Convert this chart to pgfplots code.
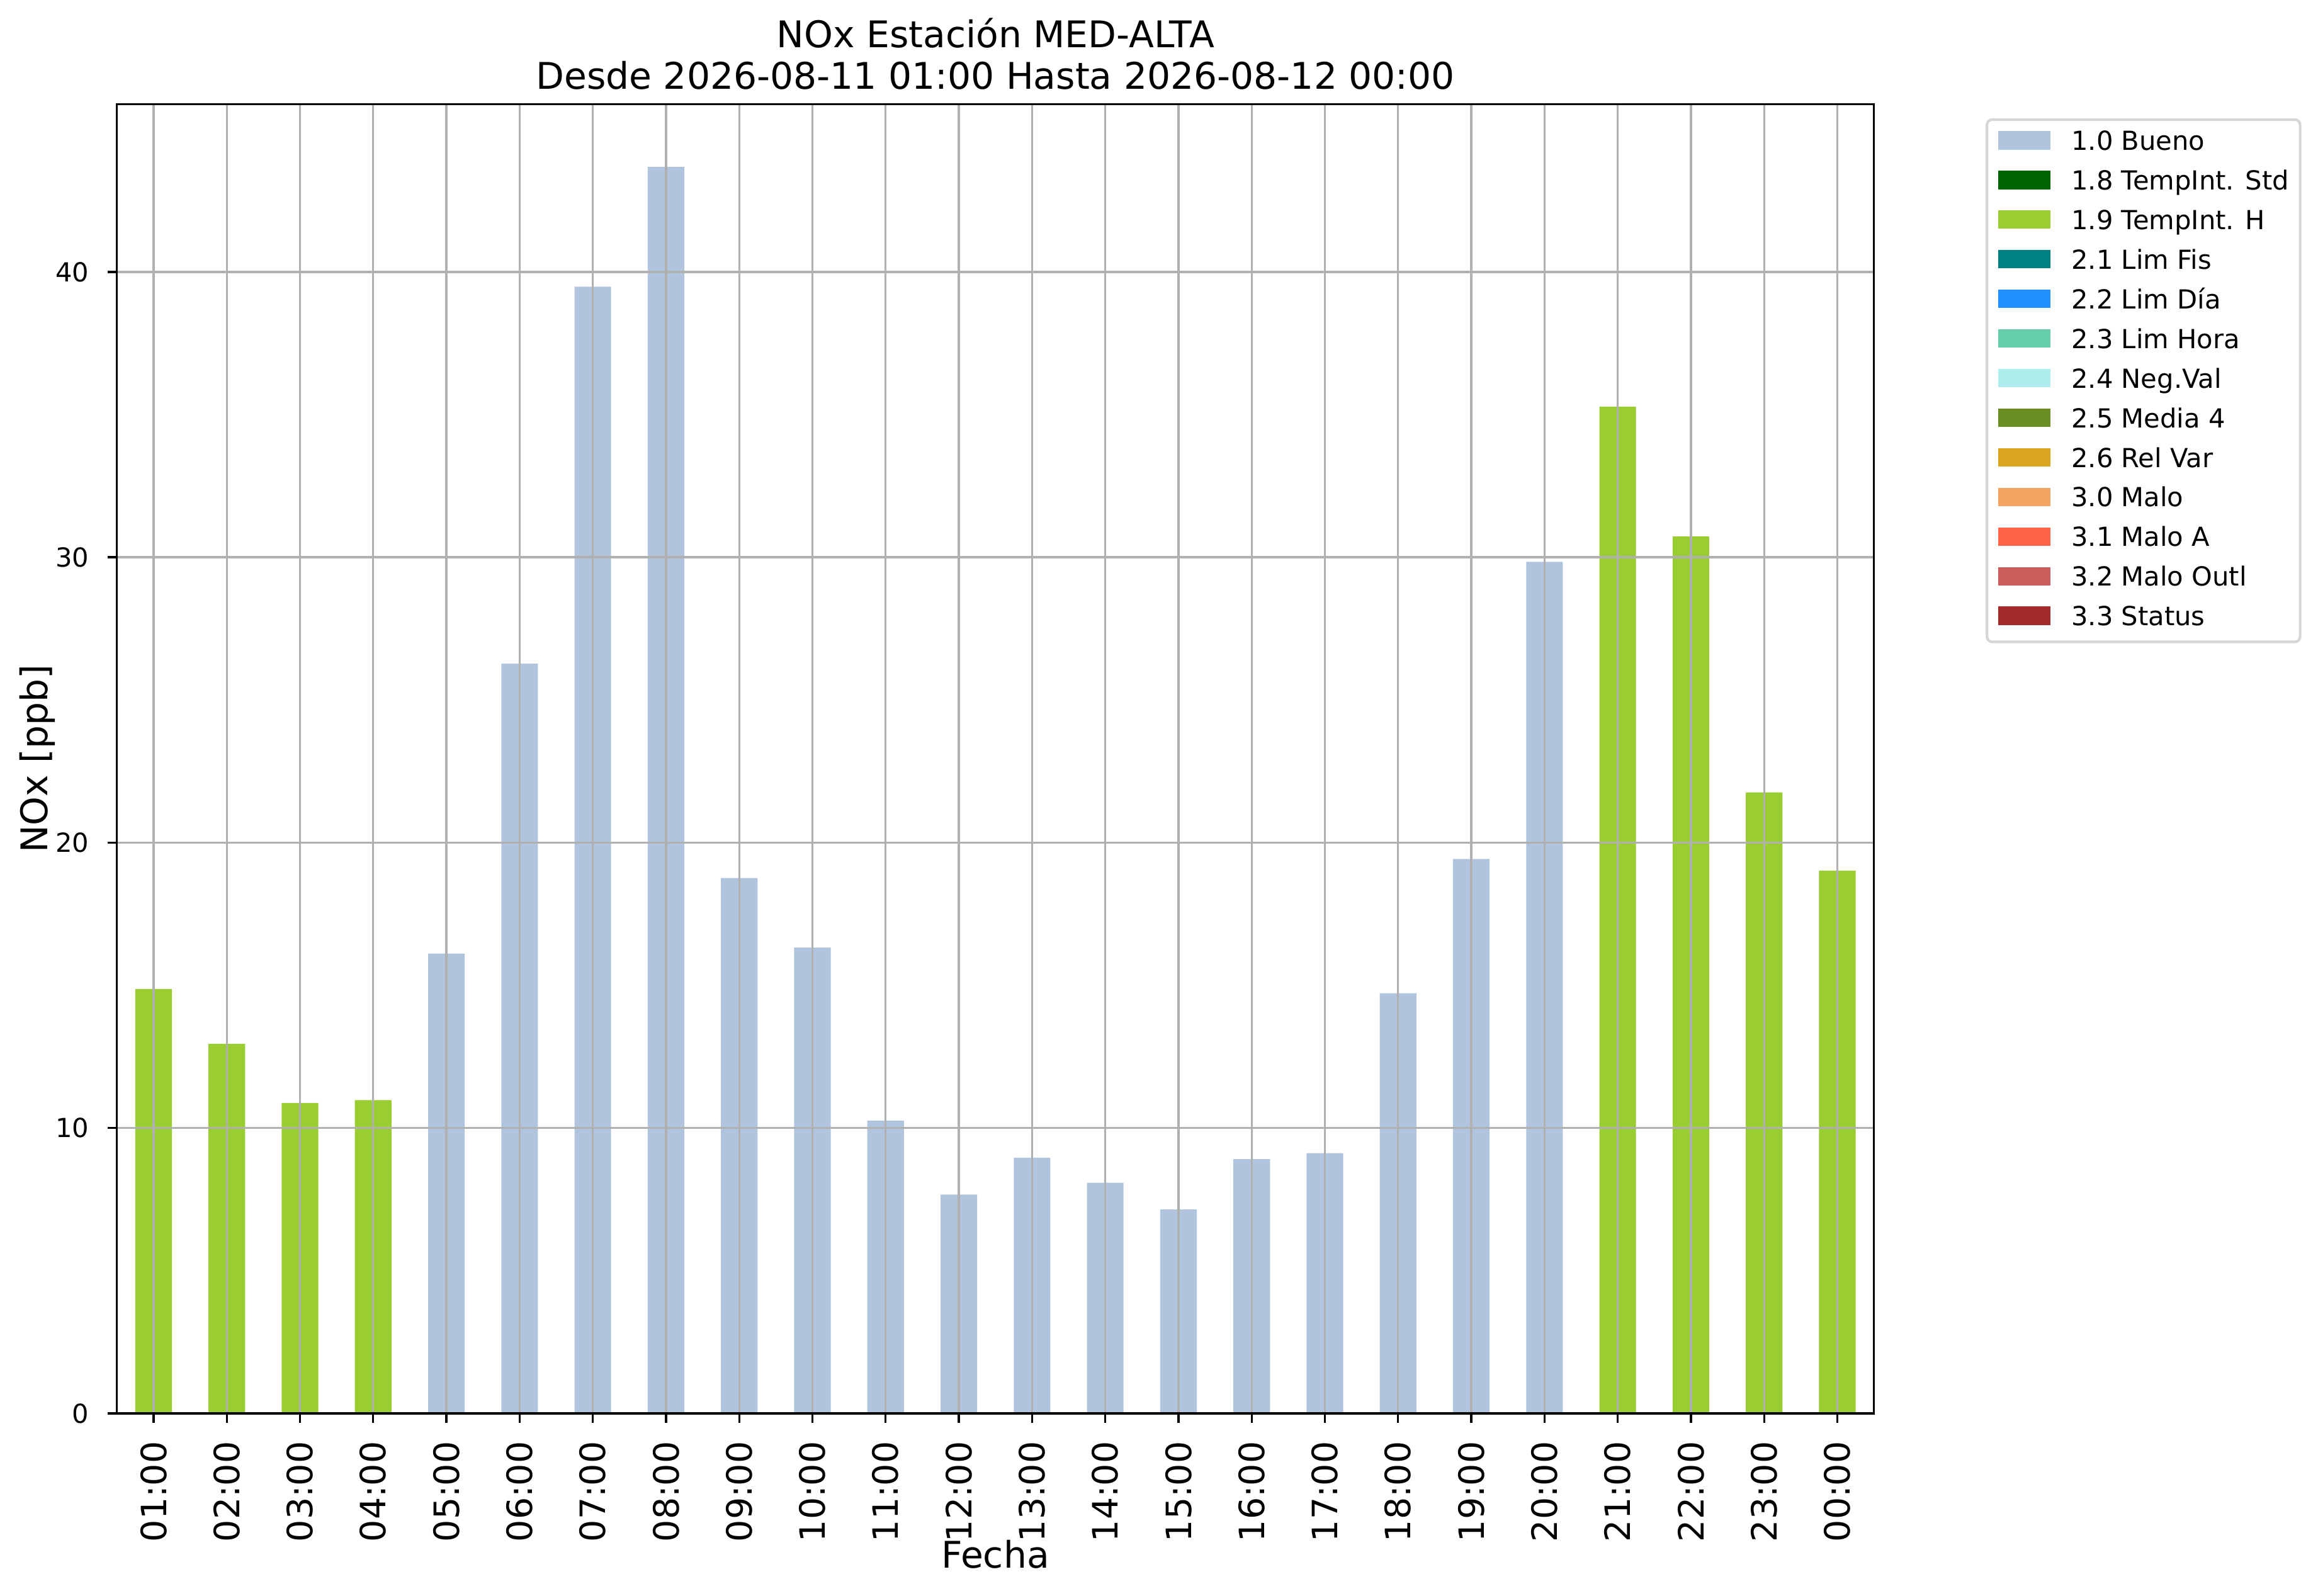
\documentclass[border=0pt]{standalone}
\usepackage{fontspec}
\setmainfont{DejaVu Sans}
\usepackage{pgfplots}
\pgfplotsset{compat=1.18}
\definecolor{c10}{HTML}{B0C4DE}
\definecolor{c18}{HTML}{006400}
\definecolor{c19}{HTML}{9ACD32}
\definecolor{c21}{HTML}{008080}
\definecolor{c22}{HTML}{1E90FF}
\definecolor{c23}{HTML}{66CDAA}
\definecolor{c24}{HTML}{AFEEEE}
\definecolor{c25}{HTML}{6B8E23}
\definecolor{c26}{HTML}{DAA520}
\definecolor{c30}{HTML}{F4A460}
\definecolor{c31}{HTML}{FF6347}
\definecolor{c32}{HTML}{CD5C5C}
\definecolor{c33}{HTML}{A52A2A}
\definecolor{gridgray}{HTML}{B0B0B0}
\definecolor{legframe}{HTML}{D6D6D6}
\begin{document}
\begin{tikzpicture}
\path[use as bounding box] (0,0) rectangle (883.7pt,608.2pt);
\begin{axis}[
  at={(44.6pt,69.4pt)}, anchor=south west,
  scale only axis, width=669.8pt, height=499pt,
  xmin=-0.5, xmax=23.5, ymin=0, ymax=45.87,
  ybar, bar width=0.5, bar shift=0pt,
  xtick={0,...,23},
  xticklabels={\mbox{01:00},\mbox{02:00},\mbox{03:00},\mbox{04:00},\mbox{05:00},\mbox{06:00},\mbox{07:00},\mbox{08:00},\mbox{09:00},\mbox{10:00},\mbox{11:00},\mbox{12:00},\mbox{13:00},\mbox{14:00},\mbox{15:00},\mbox{16:00},\mbox{17:00},\mbox{18:00},\mbox{19:00},\mbox{20:00},\mbox{21:00},\mbox{22:00},\mbox{23:00},\mbox{00:00}},
  ytick={0,10,20,30,40},
  axis on top,
  grid=major,
  major grid style={color=gridgray, line width=0.8pt},
  axis line style={line width=0.8pt, black},
  tick style={line width=0.8pt, black},
  major tick length=3.5pt, tick align=outside, tick pos=left,
  /pgf/number format/assume math mode=true,
  xticklabel style={rotate=90, anchor=east, inner sep=0pt, font=\fontsize{13.3}{15}\selectfont},
  yticklabel style={anchor=east, inner sep=0pt, font=\fontsize{10}{12}\selectfont},
  xticklabel shift=7pt, yticklabel shift=7pt,
  title={NOx Estación MED-ALTA\\Desde 2026-08-11 01:00 Hasta 2026-08-12 00:00},
  title style={at={(axis description cs:0.5,1)}, anchor=south, inner sep=0pt, yshift=-0.6pt, align=center, font=\fontsize{14}{15.8}\selectfont},
  xlabel={Fecha},
  xlabel style={at={(axis description cs:0.5,0)}, anchor=base, inner sep=0pt, yshift=-59pt, font=\fontsize{14}{16}\selectfont},
  ylabel={NOx [ppb]},
  ylabel style={at={(axis description cs:0,0.5)}, anchor=north, inner sep=0pt, yshift=37.4pt, font=\fontsize{14}{16}\selectfont},
  legend cell align=left,
  legend image code/.code={\fill[#1, sharp corners] (0pt,-2.5pt) rectangle (20pt,4.5pt);},
  legend style={at={(1.0636,0.9894)}, anchor=north west, draw=legframe, line width=1pt, rounded corners=2pt,
    font=\fontsize{10}{12}\selectfont, inner xsep=4.2pt, inner ysep=4.2pt, row sep=5.6pt,
    nodes={inner sep=0pt, text height=7.5pt, text depth=2pt},
    /tikz/every odd column/.append style={column sep=8pt}},
]
\addplot[fill=c10, draw=none] coordinates {(4,16.11) (5,26.27) (6,39.48) (7,43.68) (8,18.76) (9,16.32) (10,10.26) (11,7.67) (12,8.96) (13,8.08) (14,7.15) (15,8.91) (16,9.12) (17,14.72) (18,19.43) (19,29.84)};
\addlegendentry{1.0 Bueno}
\addlegendimage{fill=c18, draw=none}\addlegendentry{1.8 TempInt. Std}
\addplot[fill=c19, draw=none] coordinates {(0,14.87) (1,12.95) (2,10.88) (3,10.98) (20,35.28) (21,30.73) (22,21.76) (23,19.02)};
\addlegendentry{1.9 TempInt. H}
\addlegendimage{fill=c21, draw=none}\addlegendentry{2.1 Lim Fis}
\addlegendimage{fill=c22, draw=none}\addlegendentry{2.2 Lim Día}
\addlegendimage{fill=c23, draw=none}\addlegendentry{2.3 Lim Hora}
\addlegendimage{fill=c24, draw=none}\addlegendentry{2.4 Neg.Val}
\addlegendimage{fill=c25, draw=none}\addlegendentry{2.5 Media 4}
\addlegendimage{fill=c26, draw=none}\addlegendentry{2.6 Rel Var}
\addlegendimage{fill=c30, draw=none}\addlegendentry{3.0 Malo}
\addlegendimage{fill=c31, draw=none}\addlegendentry{3.1 Malo A}
\addlegendimage{fill=c32, draw=none}\addlegendentry{3.2 Malo Outl}
\addlegendimage{fill=c33, draw=none}\addlegendentry{3.3 Status}
\end{axis}
\end{tikzpicture}
\end{document}
